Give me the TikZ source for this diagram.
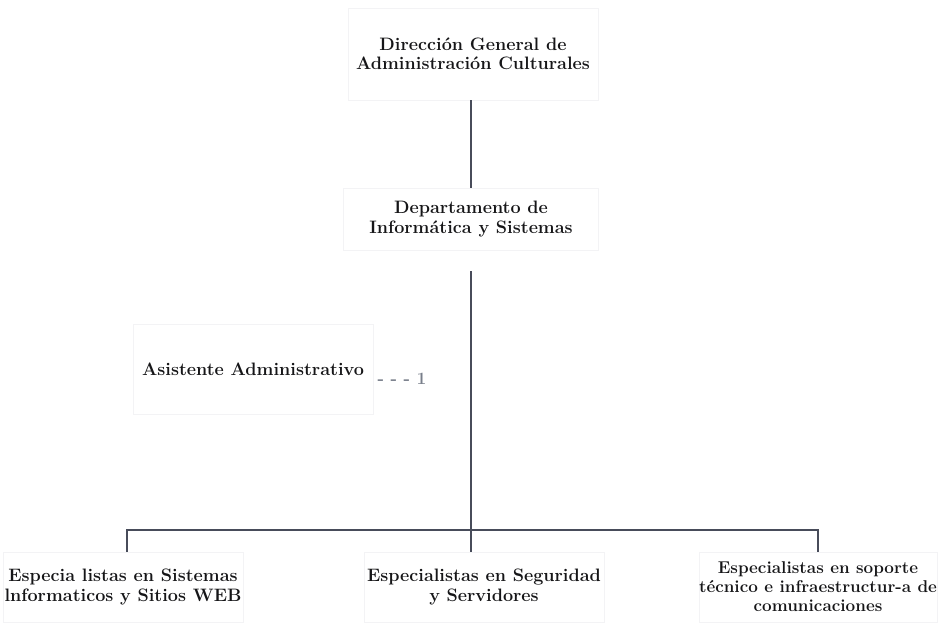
\documentclass[tikz,border=0pt]{standalone}
\usepackage{fontspec}
\definecolor{linea}{RGB}{72,76,90}
\definecolor{texto}{RGB}{22,22,24}
\definecolor{borde}{RGB}{243,243,245}
\definecolor{gris}{RGB}{120,126,138}
\begin{document}
\begin{tikzpicture}[x=0.75pt,y=-0.75pt,
    every node/.append style={font=\fontsize{13.5}{14.6}\selectfont\bfseries,text=texto,align=center},
    caja/.style={draw=borde,line width=0.6pt,inner sep=0pt},
    conector/.style={draw=linea,line width=1.5pt}]
    \useasboundingbox (0,0) rectangle (941,633);

    \node[caja,minimum width=187.5pt,minimum height=69pt] (dirgen) at (473,54) {Dirección General de\\Administración Culturales};
    \node[caja,minimum width=191pt,minimum height=46.5pt] (depto) at (471,219) {Departamento de\\Informática y Sistemas};
    \node[caja,minimum width=180pt,minimum height=67.5pt] (asist) at (253,369) {Asistente Administrativo};
    \node[text=gris,font=\fontsize{13}{14}\selectfont\bfseries] (uno) at (402,379) {- - - 1};

    \node[caja,minimum width=180pt,minimum height=52.5pt] (izq) at (123,587) {Especia listas en Sistemas\\lnformaticos y Sitios WEB};
    \node[caja,minimum width=180pt,minimum height=52.5pt] (centro) at (484,587) {Especialistas en Seguridad\\y Servidores};
    \node[caja,minimum width=176pt,minimum height=52.5pt,font=\fontsize{12.8}{14.3}\selectfont\bfseries] (der) at (818,587) {Especialistas en soporte\\técnico e infraestructur-a de\\comunicaciones};

    \coordinate (barra) at (471,530);
    \draw[conector] (dirgen.south -| depto.south) -- (depto.north);
    \draw[conector,shorten <=15.75pt] (depto.south) -- (depto.south |- centro.north);
    \draw[conector,line width=2pt] (izq.north -| 127,0) |- (barra) -| (der.north);
\end{tikzpicture}
\end{document}
